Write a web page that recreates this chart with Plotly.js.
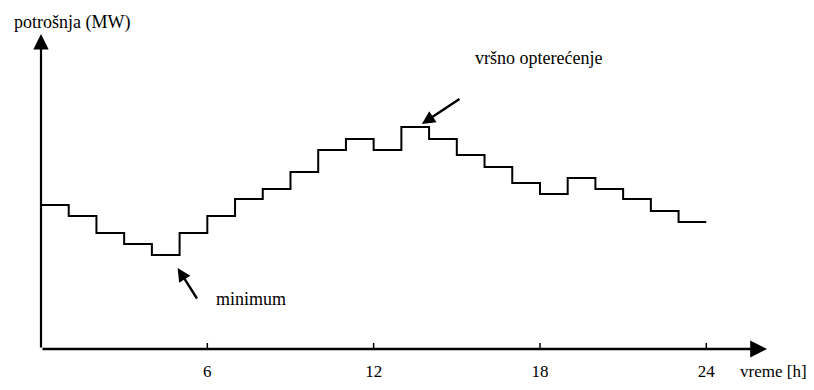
<!DOCTYPE html>
<html>
<head>
<meta charset="utf-8">
<script src="https://cdn.plot.ly/plotly-3.0.1.min.js"></script>
<style>
html,body{margin:0;padding:0;background:#fff;}
#chart{width:814px;height:390px;}
</style>
</head>
<body>
<div id="chart"></div>
<script>
// hourly load, step per hour (relative units)
const hours = [0,1,2,3,4,5,6,7,8,9,10,11,12,13,14,15,16,17,18,19,20,21,22,23];
const load  = [144,133,116,105,94,116,133,150,160,177,199,210,199,222,210,194,182,166,155,171,160,150,138,127];
const tickVals = [6,12,18,24];
const tickText = ['6','12','18','24'];
const yLabel = 'potrošnja (MW)';
const xLabel = 'vreme [h]';
const peakLabel = 'vršno opterećenje';
const minLabel = 'minimum';

const xs = hours.concat([24]);
const ys = load.concat([load[load.length-1]]);

const FONT = {family:'Liberation Serif', size:18, color:'#000'};
const TICKFONT = {family:'Liberation Serif', size:17, color:'#000'};
const XMAX = 26.19, YMAX = 315;

const trace = {
  x: xs, y: ys, type:'scatter', mode:'lines',
  line:{shape:'hv', color:'#000', width:2},
  hoverinfo:'skip', cliponaxis:false
};

const tickShapes = tickVals.map(v => ({
  type:'line', xref:'x', yref:'y', x0:v, x1:v, y0:-6, y1:6,
  line:{color:'#000', width:1.5}
}));

const layout = {
  width:814, height:390,
  margin:{l:41, r:47, t:34, b:41},
  paper_bgcolor:'#fff', plot_bgcolor:'#fff',
  showlegend:false,
  font:FONT,
  xaxis:{range:[0,XMAX], showgrid:false, zeroline:false, showline:false,
         tickmode:'array', tickvals:tickVals, ticktext:tickText, ticks:'', ticklabelstandoff:10,
         tickfont:TICKFONT, fixedrange:true},
  yaxis:{range:[0,YMAX], showgrid:false, zeroline:false, showline:false,
         showticklabels:false, ticks:'', fixedrange:true},
  shapes: tickShapes,
  annotations:[
    // x axis arrow
    {x:XMAX, y:0, xref:'x', yref:'y', ax:0, ay:0, axref:'x', ayref:'y',
     showarrow:true, arrowhead:2, arrowsize:1.4, arrowwidth:2.4, arrowcolor:'#000', text:''},
    // y axis arrow
    {x:0, y:YMAX, xref:'x', yref:'y', ax:0, ay:0, axref:'x', ayref:'y',
     showarrow:true, arrowhead:2, arrowsize:1.4, arrowwidth:2.2, arrowcolor:'#000', text:''},
    // peak arrow
    {x:13.74, y:225, xref:'x', yref:'y', ax:15.15, ay:251, axref:'x', ayref:'y',
     showarrow:true, arrowhead:2, arrowsize:1.1, arrowwidth:2.4, arrowcolor:'#000', text:''},
    // minimum arrow
    {x:4.93, y:81, xref:'x', yref:'y', ax:5.66, ay:49, axref:'x', ayref:'y',
     showarrow:true, arrowhead:2, arrowsize:1.1, arrowwidth:2.4, arrowcolor:'#000', text:''},
    {x:15.58, y:291, xref:'x', yref:'y', xanchor:'left', yanchor:'middle', showarrow:false, text:peakLabel, font:FONT},
    {x:6.24, y:50, xref:'x', yref:'y', xanchor:'left', yanchor:'middle', showarrow:false, text:minLabel, font:FONT},
    {x:-0.040, y:1.035, xref:'paper', yref:'paper', xanchor:'left', yanchor:'middle', showarrow:false, text:yLabel, font:FONT},
    {x:0.960, y:-0.073, xref:'paper', yref:'paper', xanchor:'left', yanchor:'middle', showarrow:false, text:xLabel, font:TICKFONT}
  ]
};

Plotly.newPlot('chart', [trace], layout, {displayModeBar:false, staticPlot:true});
</script>
</body>
</html>
